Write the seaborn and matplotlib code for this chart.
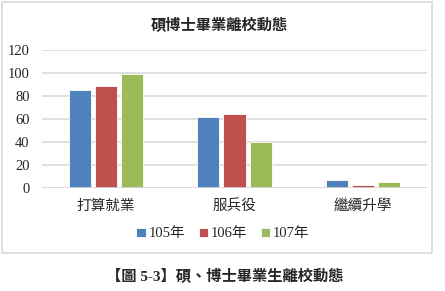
import matplotlib
matplotlib.use("Agg")
import matplotlib.pyplot as plt
from matplotlib.patches import Rectangle
import seaborn as sns
import pandas as pd

categories = ["打算就業", "服兵役", "繼續升學"]
years = ["105年", "106年", "107年"]
v105 = [85, 62, 7]
v106 = [89, 64, 3]
v107 = [99, 40, 5]
yticks = [0, 20, 40, 60, 80, 100, 120]

rows = []
for yr, vals in zip(years, [v105, v106, v107]):
    for c, v in zip(categories, vals):
        rows.append({"cat": c, "year": yr, "val": v})
df = pd.DataFrame(rows)

sns.set_theme(style="white")
plt.rcParams['font.family'] = ['Liberation Serif', 'Noto Sans CJK TC', 'DejaVu Sans']

W, H = 445, 291
fig = plt.figure(figsize=(W / 100, H / 100), dpi=100)
ax = fig.add_axes([42 / W, 1 - 188 / H, 385 / W, 138 / H])

palette = ["#4F81BD", "#C0504D", "#9BBB59"]
sns.barplot(data=df, x="cat", y="val", hue="year", palette=palette,
            width=0.61, gap=0.15, ax=ax, saturation=1, legend=True,
            edgecolor="white", linewidth=0.6)

ax.set_ylim(0, 120)
ax.set_yticks(yticks)
ax.set_yticklabels([str(t) for t in yticks], fontsize=10.5, family='Liberation Serif')
ax.yaxis.grid(True, color="#D9D9D9", linewidth=1.2)
ax.set_axisbelow(True)
for s in ax.spines.values():
    s.set_visible(False)
ax.tick_params(axis='both', length=0)
ax.tick_params(axis='y', pad=9)
ax.tick_params(axis='x', pad=8)
ax.set_xticks(range(len(categories)))
ax.set_xticklabels(categories, fontsize=10.5, family=['Noto Sans CJK TC'])
ax.set_xlabel("")
ax.set_ylabel("")
ax.axhline(0, color="#D9D9D9", linewidth=1.2)

leg = ax.legend(loc="center", bbox_to_anchor=(223 / W, 1 - 234 / H),
                bbox_transform=fig.transFigure, ncol=3, frameon=False,
                handlelength=0.65, handleheight=0.65, handletextpad=0.2,
                columnspacing=0.9, fontsize=10.5)
for t in leg.get_texts():
    t.set_family(['Liberation Serif', 'Noto Sans CJK TC'])

fig.text(219 / W, 1 - 25 / H, "碩博士畢業離校動態", ha="center", va="center",
         fontsize=11, fontweight="bold", family=['Noto Sans CJK TC'])
fig.text(225 / W, 1 - 276 / H, "【圖 5-3】碩、博士畢業生離校動態", ha="center", va="center",
         fontsize=11, fontweight="bold", family=['Liberation Serif', 'Noto Sans CJK TC'])

fig.patches.append(Rectangle((2 / W, 1 - 253 / H), 430 / W, 251 / H,
                             transform=fig.transFigure, fill=False,
                             edgecolor="#D9D9D9", linewidth=1.2))

fig.savefig("out.png", dpi=100)
